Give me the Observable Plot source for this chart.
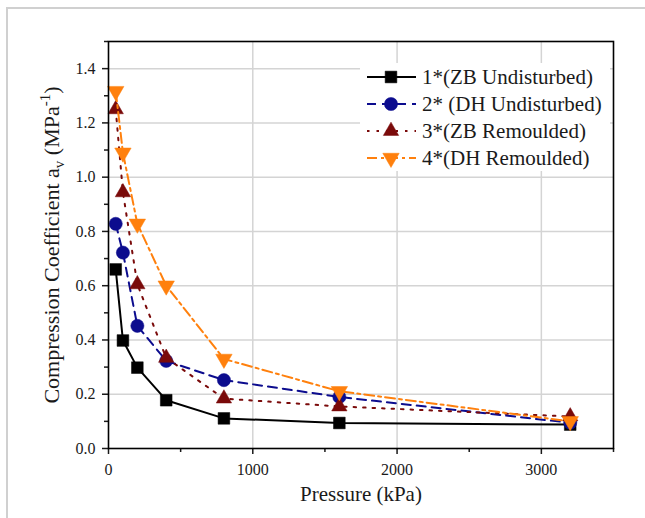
<!DOCTYPE html>
<html>
<head>
<meta charset="utf-8">
<script src="https://cdn.jsdelivr.net/npm/d3@7"></script>
<script src="https://cdn.jsdelivr.net/npm/@observablehq/plot@0.6"></script>
<style>
  html, body { margin: 0; padding: 0; background: #fff; overflow: hidden; }
  #wrap { position: relative; width: 645px; height: 518px; }
  #border { position: absolute; left: 6px; top: 7px; width: 700px; height: 600px;
            border-left: 2px solid #d0d0d0; border-top: 2px solid #d0d0d0; pointer-events: none; z-index: 2; }
  #wrap svg, #wrap svg text, #wrap svg tspan { font-family: "Liberation Serif", "Times New Roman", serif !important; }
</style>
</head>
<body>
<div id="wrap"><div id="border"></div></div>
<script>
// ---- data ----
const pressure = [50, 100, 200, 400, 800, 1600, 3200];
const zbUndisturbed = [0.66, 0.398, 0.298, 0.178, 0.111, 0.094, 0.088];
const dhUndisturbed = [0.828, 0.722, 0.452, 0.323, 0.252, 0.19, 0.095];
const zbRemoulded   = [1.25, 0.944, 0.605, 0.334, 0.184, 0.155, 0.118];
const dhRemoulded   = [1.317, 1.09, 0.828, 0.60, 0.33, 0.211, 0.10];
const seriesNames = ["1*(ZB Undisturbed)", "2* (DH Undisturbed)", "3*(ZB Remoulded)", "4*(DH Remoulded)"];
const seriesValues = [zbUndisturbed, dhUndisturbed, zbRemoulded, dhRemoulded];
const xTicks = [0, 1000, 2000, 3000];
const xMinorTicks = [500, 1500, 2500, 3500];
const yTicks = [0, 0.2, 0.4, 0.6, 0.8, 1.0, 1.2, 1.4];
const yMinorTicks = [0.1, 0.3, 0.5, 0.7, 0.9, 1.1, 1.3, 1.5];
const xTitle = "Pressure (kPa)";

// ---- styles ----
const colors = ["#000000", "#0c0c8e", "#7a0a0a", "#ff800d"];
const dashes = [null, "9,6", "2.5,7", "10,4,3,4"];
const triDown = {
  draw(ctx, size) {
    const y = -Math.sqrt(size / (Math.sqrt(3) * 3));
    ctx.moveTo(0, -y * 2);
    ctx.lineTo(-Math.sqrt(3) * y, y);
    ctx.lineTo(Math.sqrt(3) * y, y);
    ctx.closePath();
  }
};
const symbols = [d3.symbolSquare, d3.symbolCircle, d3.symbolTriangle, triDown];
const radii = [6.6, 6.6, 5.7, 6.1];

const rows = seriesValues.map((vals, i) =>
  pressure.map((p, j) => ({ series: seriesNames[i], p, v: vals[j] })));

const marks = [
  Plot.gridX(xTicks.slice(1), { x: d => d, stroke: "#d4d4d4", strokeOpacity: 1, strokeWidth: 1.5 }),
  Plot.gridY(yTicks.slice(1), { y: d => d, stroke: "#d4d4d4", strokeOpacity: 1, strokeWidth: 1.5 }),
  Plot.axisX(xTicks, { tickSize: 6, tickPadding: 9, tickFormat: d => String(d), fontSize: 16, strokeWidth: 1.5, label: null }),
  Plot.axisX(xMinorTicks, { tickSize: 4, tickFormat: () => "", strokeWidth: 1.5, label: null }),
  Plot.axisY(yTicks, { tickSize: 6, tickPadding: 7, tickFormat: d3.format(".1f"), fontSize: 16, strokeWidth: 1.5, label: null }),
  Plot.axisY(yMinorTicks, { tickSize: 4, tickFormat: () => "", strokeWidth: 1.5, label: null })
];
rows.forEach((r, i) => {
  marks.push(Plot.line(r, { x: "p", y: "v", stroke: colors[i], strokeWidth: 2, strokeDasharray: dashes[i] || undefined }));
  marks.push(Plot.dot(r, { x: "p", y: "v", symbol: () => symbols[i], r: radii[i], fill: colors[i], stroke: colors[i], strokeWidth: 0.5 }));
});
marks.push(Plot.frame({ stroke: "#000", strokeWidth: 1.6 }));

const chart = Plot.plot({
  width: 645,
  height: 518,
  marginLeft: 108,
  marginRight: 32,
  marginTop: 41,
  marginBottom: 70,
  x: { domain: [0, 3500] },
  y: { domain: [0, 1.5] },
  style: { fontFamily: "Liberation Serif, serif", fontSize: "16px", color: "#1a1a1a", background: "transparent" },
  marks
});
document.getElementById("wrap").appendChild(chart);

// ---- titles and legend ----
const svg = d3.select(chart);
svg.append("text")
  .attr("x", 361).attr("y", 501)
  .attr("text-anchor", "middle")
  .style("font-size", "21px").attr("fill", "#1a1a1a")
  .text(xTitle);

const yt = svg.append("text")
  .attr("transform", "translate(59,245) rotate(-90)")
  .attr("text-anchor", "middle")
  .style("font-size", "22px").attr("fill", "#1a1a1a");
yt.append("tspan").text("Compression Coefficient a");
yt.append("tspan").style("font-size", "15px").attr("dy", 5).text("v");
yt.append("tspan").attr("dy", -5).text(" (MPa");
yt.append("tspan").style("font-size", "15px").attr("dy", -9).text("-1");
yt.append("tspan").attr("dy", 9).text(")");

const lg = svg.append("g");
lg.append("rect").attr("x", 360).attr("y", 63).attr("width", 250).attr("height", 108).attr("fill", "#fff");
seriesNames.forEach((name, i) => {
  const cy = 77 + i * 27;
  lg.append("line").attr("x1", 367).attr("x2", 416).attr("y1", cy).attr("y2", cy)
    .attr("stroke", colors[i]).attr("stroke-width", 2)
    .attr("stroke-dasharray", dashes[i] || null);
  lg.append("path")
    .attr("transform", `translate(391,${cy})`)
    .attr("d", d3.symbol(symbols[i], radii[i] * radii[i] * Math.PI)())
    .attr("fill", colors[i]).attr("stroke", colors[i]).attr("stroke-width", 0.5);
  lg.append("text").attr("x", 422).attr("y", cy).attr("dy", "0.35em")
    .attr("text-anchor", "start")
    .style("font-size", "21px").attr("fill", "#1a1a1a")
    .text(name);
});
</script>
</body>
</html>
